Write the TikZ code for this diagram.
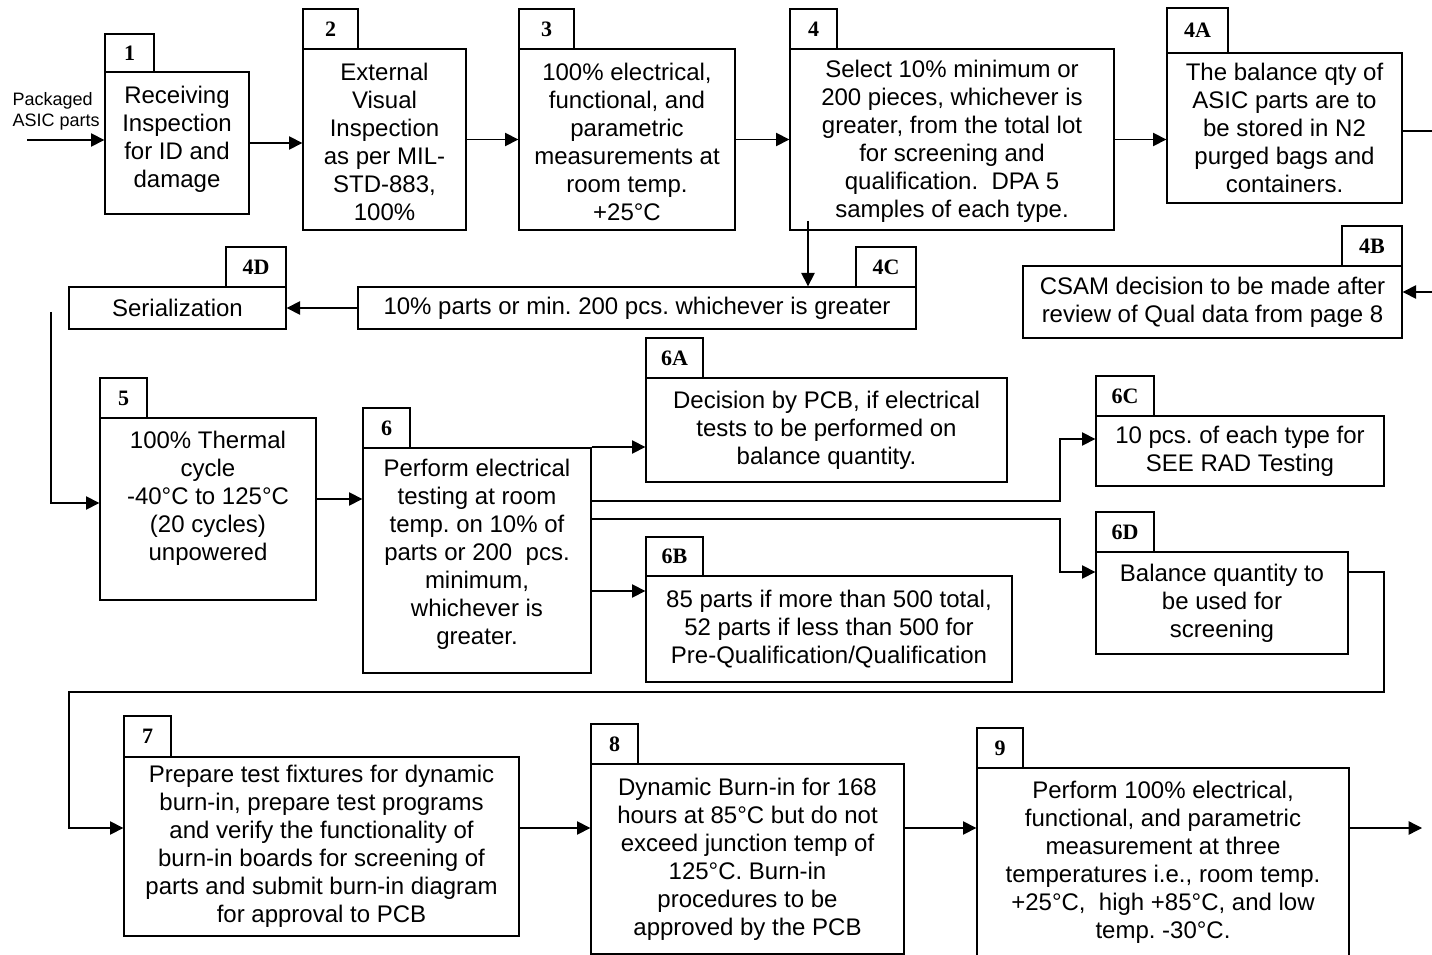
\documentclass[tikz,border=0pt]{standalone}
\usepackage{fontspec}
\setmainfont{Liberation Sans}
\newfontfamily\tagserif{Liberation Serif}
\usetikzlibrary{arrows.meta,fit,calc}

\tikzset{every picture/.style={line width=1pt}}
\tikzset{
	flow/.style={-{Triangle[length=10pt,width=10pt]}},
	box/.style={draw, inner sep=0pt},
	tag/.style={draw, inner sep=0pt},
	tagtxt/.style={inner sep=0pt, font=\tagserif\bfseries\fontsize{16.5}{16.5}\selectfont},
	txt/.style={align=center, inner sep=0pt, font=\fontsize{18}{21}\selectfont\frenchspacing},
	note/.style={align=left, inner sep=0pt, font=\fontsize{13.5}{15.75}\selectfont}}

\begin{document}
\begin{tikzpicture}[x=0.75pt,y=0.75pt,yscale=-1,xscale=1]
	\useasboundingbox (0,0) rectangle (1432,955);
	
	%Shape: Boxes, first row
	\node[box, fit={(105,72) (249,214)}] (s1) {};
	\node[tag, fit={(105,34) (154,72)}, label={[tagtxt]center:1}] (t1) {};
	\node[box, fit={(303,49) (466,230)}] (s2) {};
	\node[tag, fit={(303,9) (358,49)}, label={[tagtxt]center:2}] (t2) {};
	\node[box, fit={(519,49) (735,230)}] (s3) {};
	\node[tag, fit={(519,9) (574,49)}, label={[tagtxt]center:3}] (t3) {};
	\node[box, fit={(790,49) (1114,230)}] (s4) {};
	\node[tag, fit={(790,9) (837,49)}, label={[tagtxt]center:4}] (t4) {};
	\node[box, fit={(1167,53) (1402,203)}] (s4a) {};
	\node[tag, fit={(1167,8) (1228,53)}, label={[tagtxt]center:4A}] (t4a) {};
	
	%Shape: Boxes, second row
	\node[box, fit={(1023,266) (1402,338)}] (s4b) {};
	\node[tag, fit={(1342,226) (1402,266)}, label={[tagtxt]center:4B}] (t4b) {};
	\node[box, fit={(358,287) (916,329)}] (s4c) {};
	\node[tag, fit={(856,247) (916,287)}, label={[tagtxt]center:4C}] (t4c) {};
	\node[box, fit={(69,287) (286,329)}] (s4d) {};
	\node[tag, fit={(226,247) (286,287)}, label={[tagtxt]center:4D}] (t4d) {};
	
	%Shape: Boxes, third row
	\node[box, fit={(100,418) (316,600)}] (s5) {};
	\node[tag, fit={(100,378) (147,418)}, label={[tagtxt]center:5}] (t5) {};
	\node[box, fit={(363,448) (591,673)}] (s6) {};
	\node[tag, fit={(363,408) (410,448)}, label={[tagtxt]center:6}] (t6) {};
	\node[box, fit={(646,378) (1007,482)}] (s6a) {};
	\node[tag, fit={(646,338) (703,378)}, label={[tagtxt]center:6A}] (t6a) {};
	\node[box, fit={(646,576) (1012,682)}] (s6b) {};
	\node[tag, fit={(646,537) (703,576)}, label={[tagtxt]center:6B}] (t6b) {};
	\node[box, fit={(1096,416) (1384,486)}] (s6c) {};
	\node[tag, fit={(1096,376) (1154,416)}, label={[tagtxt]center:6C}] (t6c) {};
	\node[box, fit={(1096,552) (1348,654)}] (s6d) {};
	\node[tag, fit={(1096,512) (1154,552)}, label={[tagtxt]center:6D}] (t6d) {};
	
	%Shape: Boxes, last row
	\node[box, fit={(124,757) (519,936)}] (s7) {};
	\node[tag, fit={(124,716) (171,757)}, label={[tagtxt]center:7}] (t7) {};
	\node[box, fit={(591,764) (904,954)}] (s8) {};
	\node[tag, fit={(591,724) (638,764)}, label={[tagtxt]center:8}] (t8) {};
	\node[box, fit={(977,768) (1349,956)}] (s9) {};
	\node[tag, fit={(977,728) (1023,768)}, label={[tagtxt]center:9}] (t9) {};
	
	% Text Node
	\node[note, anchor=north west] (src_txt) at (12,92) {Packaged\\ASIC parts};
	\node[txt] (x1) at ($(s1)+(0,-4)$) {Receiving\\Inspection\\for ID and\\damage};
	\node[txt] (x2) at ($(s2)+(0,2)$) {External\\Visual\\Inspection\\as per MIL-\\STD-883,\\100\%};
	\node[txt] (x3) at ($(s3)+(0,2)$) {100\% electrical,\\functional, and\\parametric\\measurements at\\room temp.\\+25°C};
	\node[txt] (x4) at ($(s4)+(0,2)$) {Select 10\% minimum or\\200 pieces, whichever is\\greater, from the total lot\\for screening and\\qualification.\ \ DPA 5\\samples of each type.};
	\node[txt] (x4a) at (s4a) {The balance qty of\\ASIC parts are to\\be stored in N2\\purged bags and\\containers.};
	\node[txt] (x4b) at (s4b) {CSAM decision to be made after\\review of Qual data from page 8};
	\node[txt] (x4c) at (s4c) {10\% parts or min. 200 pcs. whichever is greater};
	\node[txt] (x4d) at (s4d) {Serialization};
	\node[txt] (x5) at ($(s5)+(0,-11)$) {100\% Thermal\\cycle\\-40°C to 125°C\\(20 cycles)\\unpowered};
	\node[txt] (x6) at ($(s6)+(0,-6)$) {Perform electrical\\testing at room\\temp. on 10\% of\\parts or 200\ \ pcs.\\minimum,\\whichever is\\greater.};
	\node[txt] (x6a) at (s6a) {Decision by PCB, if electrical\\tests to be performed on\\balance quantity.};
	\node[txt] (x6b) at (s6b) {85 parts if more than 500 total,\\52 parts if less than 500 for\\Pre-Qualification/Qualification};
	\node[txt] (x6c) at (s6c) {10 pcs. of each type for\\SEE RAD Testing};
	\node[txt] (x6d) at (s6d) {Balance quantity to\\be used for\\screening};
	\node[txt] (x7) at (s7) {Prepare test fixtures for dynamic\\burn-in, prepare test programs\\and verify the functionality of\\burn-in boards for screening of\\parts and submit burn-in diagram\\for approval to PCB};
	\node[txt] (x8) at (s8) {Dynamic Burn-in for 168\\hours at 85°C but do not\\exceed junction temp of\\125°C. Burn-in\\procedures to be\\approved by the PCB};
	\node[txt] (x9) at (s9) {Perform 100\% electrical,\\functional, and parametric\\measurement at three\\temperatures i.e., room temp.\\+25°C,\ \ high +85°C, and low\\temp. -30°C.};
	
	%Straight Lines: first row
	\coordinate (src) at (27,140);
	\draw[flow] (src) -- (src -| s1.west);
	\draw[flow] (s1.east) -- (s1.east -| s2.west);
	\draw[flow] (s2.east) -- (s3.west);
	\draw[flow] (s3.east) -- (s4.west);
	\draw[flow] (s4.east) -- (s4.east -| s4a.west);
	\coordinate (rimA) at (1432,131);
	\draw (rimA -| s4a.east) -- (rimA);
	
	%Straight Lines: second row
	\coordinate (rimB) at (1432,292);
	\draw[flow] (rimB) -- (rimB -| s4b.east);
	\coordinate (d4) at (808,221);
	\draw[flow] (d4) -- (d4 |- s4c.north);
	\draw[flow] (s4c.west) -- (s4d.east);
	\coordinate (d4d) at (51,312);
	\coordinate (c5) at (51,503);
	\draw[flow] (d4d) -- (c5) -- (c5 -| s5.west);
	
	%Straight Lines: third row
	\coordinate (c56) at (330,499);
	\draw[flow] (c56 -| s5.east) -- (c56 -| s6.west);
	\coordinate (c6a) at (620,447);
	\draw[flow] (c6a -| s6.east) -- (c6a -| s6a.west);
	\coordinate (c6b) at (620,591);
	\draw[flow] (c6b -| s6.east) -- (c6b -| s6b.west);
	\coordinate (j6c) at (1060,501);
	\coordinate (k6c) at (1060,439);
	\draw[flow] (j6c -| s6.east) -- (j6c) -- (k6c) -- (k6c -| s6c.west);
	\coordinate (j6d) at (1060,519);
	\coordinate (k6d) at (1060,572);
	\draw[flow] (j6d -| s6.east) -- (j6d) -- (k6d) -- (k6d -| s6d.west);
	
	%Straight Lines: last row
	\coordinate (r6d) at (1384,572);
	\coordinate (r7) at (1384,692);
	\coordinate (l7) at (69,692);
	\coordinate (c7) at (69,828);
	\draw[flow] (r6d -| s6d.east) -- (r6d) -- (r7) -- (l7) -- (c7) -- (c7 -| s7.west);
	\draw[flow] (c7 -| s7.east) -- (c7 -| s8.west);
	\draw[flow] (c7 -| s8.east) -- (c7 -| s9.west);
	\coordinate (rim9) at (1422,828);
	\draw[flow] (c7 -| s9.east) -- (rim9);
	
\end{tikzpicture}
\end{document}
